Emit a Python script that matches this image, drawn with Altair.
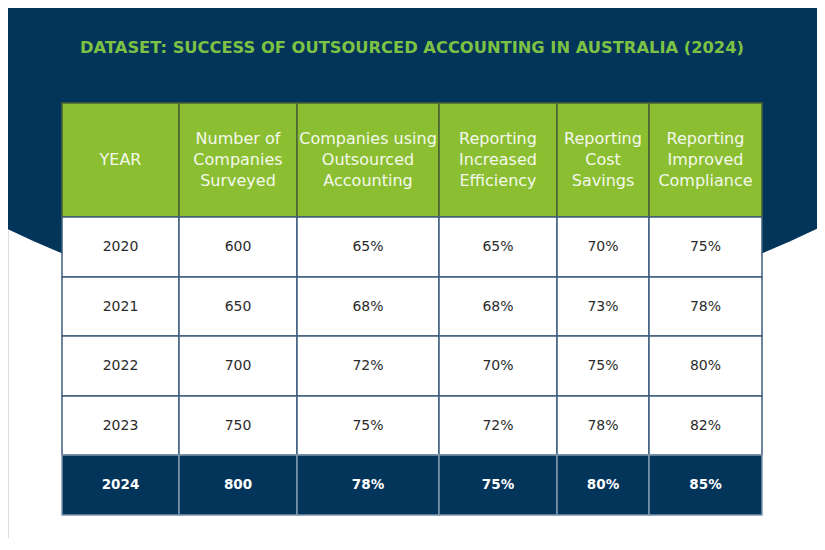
import altair as alt
import pandas as pd
import numpy as np

# ---- data ----
title_text = "DATASET: SUCCESS OF OUTSOURCED ACCOUNTING IN AUSTRALIA (2024)"
headers = ["YEAR", "Number of\nCompanies\nSurveyed", "Companies using\nOutsourced\nAccounting",
           "Reporting\nIncreased\nEfficiency", "Reporting\nCost\nSavings", "Reporting\nImproved\nCompliance"]
years = ["2020", "2021", "2022", "2023", "2024"]
surveyed = [600, 650, 700, 750, 800]
outsourced = [65, 68, 72, 75, 78]
efficiency = [65, 68, 70, 72, 75]
savings = [70, 73, 75, 78, 80]
compliance = [75, 78, 80, 82, 85]

# ---- layout (table units) ----
col_widths = [117, 118, 142, 118, 92, 113]
row_heights = [114, 60, 59, 60, 59, 60]
LINE_H = 21

NAVY = "#03345A"
GREEN = "#8BBF31"
TITLE_GREEN = "#7DC243"

xb = np.concatenate([[0], np.cumsum(col_widths)])
yb = np.concatenate([[0], np.cumsum(row_heights)])

body_cols = [years, [str(v) for v in surveyed], [f"{v}%" for v in outsourced],
             [f"{v}%" for v in efficiency], [f"{v}%" for v in savings], [f"{v}%" for v in compliance]]

recs = []
for r in range(len(row_heights)):
    for c in range(len(col_widths)):
        if r == 0:
            kind, label = "header", headers[c]
        else:
            kind = "last" if r == len(row_heights) - 1 else "body"
            label = body_cols[c][r - 1]
        nlines = label.count("\n") + 1
        ym = (yb[r] + yb[r + 1]) / 2
        recs.append(dict(x0=xb[c], x1=xb[c + 1], y0=yb[r], y1=yb[r + 1],
                         xm=(xb[c] + xb[c + 1]) / 2, ym=ym,
                         yt=ym - (nlines - 1) * LINE_H / 2,
                         kind=kind, label=label))
cells = pd.DataFrame(recs)

xs = alt.Scale(domain=[0, int(xb[-1])], range=[54, 754])
ys = alt.Scale(domain=[0, int(yb[-1])], range=[95, 507])

bg = alt.Chart(pd.DataFrame({"v": [1]})).mark_arc(color=NAVY).encode(
    theta=alt.Theta("v:Q", stack=True),
    x=alt.value(404), y=alt.value(-612), radius=alt.value(926)
)

title = alt.Chart(pd.DataFrame({"t": [title_text]})).mark_text(
    font="DejaVu Sans", fontSize=16.3, fontWeight="bold", color=TITLE_GREEN
).encode(text="t:N", x=alt.value(404), y=alt.value(40))

rects = alt.Chart(cells).mark_rect(strokeWidth=1.5).encode(
    x=alt.X("x0:Q", scale=xs, axis=None), x2="x1",
    y=alt.Y("y0:Q", scale=ys, axis=None), y2="y1",
    fill=alt.Fill("kind:N", scale=alt.Scale(domain=["header", "body", "last"],
                                              range=[GREEN, "#FFFFFF", NAVY]), legend=None),
    stroke=alt.Stroke("kind:N", scale=alt.Scale(domain=["header", "body", "last"],
                                                  range=["#4A6236", "#3E5F7D", "#7F97AC"]), legend=None),
)

head_text = alt.Chart(cells[cells.kind == "header"]).mark_text(
    font="DejaVu Sans", fontSize=16, color="#F4F8EC", lineBreak="\n", lineHeight=LINE_H, baseline="middle"
).encode(x=alt.X("xm:Q", scale=xs), y=alt.Y("yt:Q", scale=ys), text="label:N")

body_text = alt.Chart(cells[cells.kind == "body"]).mark_text(
    font="DejaVu Sans", fontSize=14, color="#2B2B2B", baseline="middle"
).encode(x=alt.X("xm:Q", scale=xs), y=alt.Y("ym:Q", scale=ys), text="label:N")

last_text = alt.Chart(cells[cells.kind == "last"]).mark_text(
    font="DejaVu Sans", fontSize=13.5, fontWeight="bold", color="#FFFFFF", baseline="middle"
).encode(x=alt.X("xm:Q", scale=xs), y=alt.Y("ym:Q", scale=ys), text="label:N")

chart = alt.layer(bg, title, rects, head_text, body_text, last_text).properties(
    width=809, height=530, autosize=alt.AutoSizeParams(type="none"), padding=0
).configure_view(stroke=None).configure(background="#FFFFFF")

chart.save("out.html", embed_options={"renderer": "svg", "actions": False})
